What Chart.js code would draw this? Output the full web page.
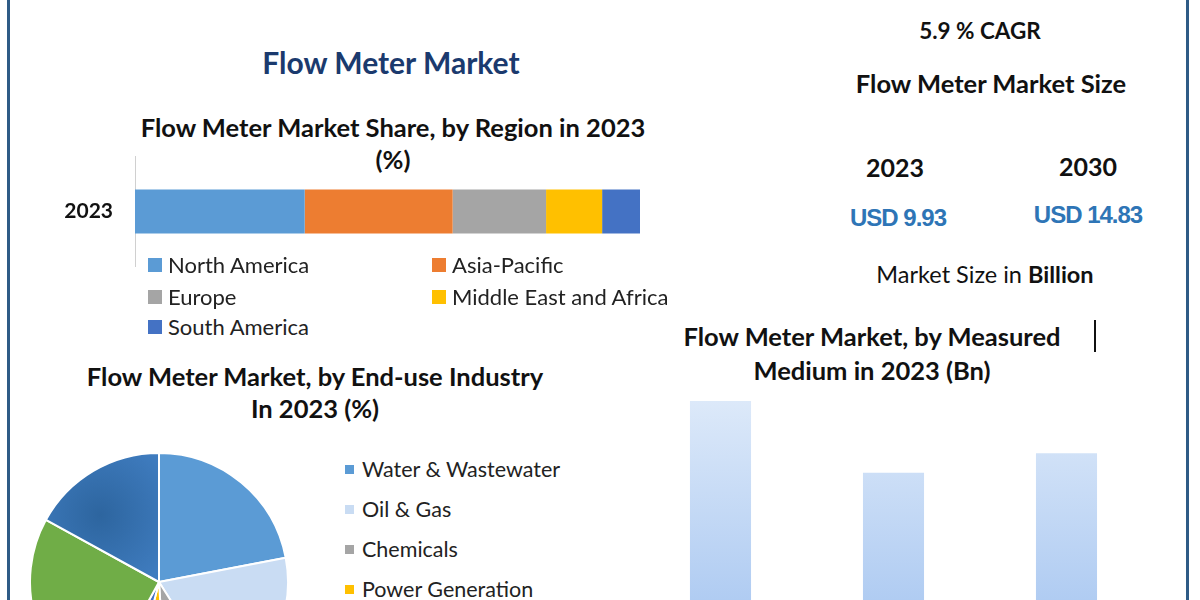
<!DOCTYPE html>
<html>
<head>
<meta charset="utf-8">
<script src="https://cdn.jsdelivr.net/npm/chart.js"></script>
<style>
  body { margin: 0; width: 1200px; height: 600px; overflow: hidden; background: #fff; font-family: Lato, sans-serif; position: relative; }
  .t { position: absolute; white-space: nowrap; transform: translate(-50%, -50%); line-height: 1; color: #111; font-weight: bold; }
  .box { position: absolute; }
  .leg { position: absolute; white-space: nowrap; font-size: 22px; color: #222; line-height: 1; }
  .leg i { display: inline-block; vertical-align: middle; margin-right: 6px; position: relative; top: -2px; }
  .usd { font-family: "Liberation Sans", sans-serif; color: #2e75b6; letter-spacing: -1px; font-size: 24px; }
</style>
</head>
<body>
<div style="position:absolute;left:7px;top:0;width:3px;height:600px;background:#2f5b86"></div>
<div style="position:absolute;left:1186px;top:0;width:3px;height:600px;background:#2f5b86"></div>
<div style="position:absolute;left:1094px;top:320px;width:2px;height:32px;background:#111"></div>

<div class="t" style="left:391px;top:62px;font-size:30px;color:#1b3a6e">Flow Meter Market</div>
<div class="t" style="left:393px;top:128px;font-size:25.5px">Flow Meter Market Share, by Region in 2023</div>
<div class="t" style="left:393px;top:160px;font-size:25.5px">(%)</div>
<div class="t" style="left:315px;top:377px;font-size:25.5px">Flow Meter Market, by End-use Industry</div>
<div class="t" style="left:315px;top:409px;font-size:25.5px">In 2023 (%)</div>
<div class="t" style="left:872px;top:337px;font-size:25.5px">Flow Meter Market, by Measured</div>
<div class="t" style="left:872px;top:371px;font-size:25.5px">Medium in 2023 (Bn)</div>
<div class="t" style="left:980px;top:31px;font-size:22.5px">5.9 % CAGR</div>
<div class="t" style="left:991px;top:84px;font-size:25.5px">Flow Meter Market Size</div>
<div class="t" id="y0" style="left:895px;top:167px;font-size:25px"></div>
<div class="t" id="y1" style="left:1088px;top:166px;font-size:25px"></div>
<div class="t usd" id="v0" style="left:898px;top:218px"></div>
<div class="t usd" id="v1" style="left:1088px;top:215px"></div>
<div class="t" style="left:985px;top:275px;font-size:23.5px;font-weight:normal">Market Size in <b>Billion</b></div>

<!-- tick padding is also added above/below the y axis, so the box is taller than the plot -->
<div class="box" style="left:60px;top:122px;width:580px;height:179px"><canvas id="regionChart"></canvas></div>
<div id="regionLegend"></div>
<div class="box" style="left:29px;top:452px;width:260px;height:260px"><canvas id="pieChart"></canvas></div>
<div id="pieLegend"></div>
<div class="box" style="left:634px;top:380px;width:519px;height:320px"><canvas id="mediumChart"></canvas></div>

<script>
// market size
const sizeYears = ['2023', '2030'];
const sizeValues = [9.93, 14.83];

// share by region, 2023 (%)
const regions = ['North America', 'Asia-Pacific', 'Europe', 'Middle East and Africa', 'South America'];
const regionShare = [33.6, 29.3, 18.5, 11.1, 7.5];
const regionColors = ['#5b9bd5', '#ed7d31', '#a5a5a5', '#ffc000', '#4472c4'];

// end-use industry, 2023 (%)
const industries = ['Water & Wastewater', 'Oil & Gas', 'Chemicals', 'Power Generation', 'Pharmaceuticals', 'Food & Beverages', 'Others'];
const industryShare = [22, 19, 8, 5, 4, 25, 17];
const industryColors = ['#5b9bd5', '#c9dcf3', '#a5a5a5', '#ffc000', '#4472c4', '#70ad47', '#3f7cbf'];

// measured medium, 2023 (Bn)
const media = ['Liquid', 'Gas', 'Steam'];
const mediumValues = [3.84, 2.92, 3.17];

sizeYears.forEach((y, i) => {
  document.getElementById('y' + i).textContent = y;
  document.getElementById('v' + i).textContent = 'USD ' + sizeValues[i].toFixed(2);
});

// region stacked bar
new Chart(document.getElementById('regionChart'), {
  type: 'bar',
  data: {
    labels: ['2023'],
    datasets: regions.map((r, i) => ({
      label: r,
      data: [regionShare[i]],
      backgroundColor: regionColors[i],
      barPercentage: 0.4,
      categoryPercentage: 1
    }))
  },
  options: {
    indexAxis: 'y',
    responsive: true,
    maintainAspectRatio: false,
    animation: false,
    layout: { padding: 0 },
    plugins: { legend: { display: false }, tooltip: { enabled: false } },
    scales: {
      x: { stacked: true, display: false, min: 0, max: 100 },
      y: {
        stacked: true,
        afterFit: s => { s.width = 75; },
        grid: { display: false, drawTicks: false },
        border: { display: true, color: '#d0d0d0', width: 1 },
        ticks: { padding: 22, color: '#111', font: { family: 'Lato', size: 21, weight: 'bold' } }
      }
    }
  }
});

// region legend in two columns
const regLeg = document.getElementById('regionLegend');
regions.forEach((r, i) => {
  const d = document.createElement('div');
  d.className = 'leg';
  d.style.left = (i % 2 ? 432 : 148) + 'px';
  d.style.top = ([265, 297, 327][Math.floor(i / 2)] - 11) + 'px';
  d.innerHTML = '<i style="width:14px;height:14px;background:' + regionColors[i] + '"></i>' + r;
  regLeg.appendChild(d);
});

// end-use pie
new Chart(document.getElementById('pieChart'), {
  type: 'pie',
  data: {
    labels: industries,
    datasets: [{
      data: industryShare,
      backgroundColor: ctx => {
        // last slice has a darker spot in the picture
        if (ctx.dataIndex !== industries.length - 1 || !ctx.chart.chartArea) return industryColors[ctx.dataIndex];
        const g = ctx.chart.ctx.createRadialGradient(71, 63, 0, 71, 63, 80);
        g.addColorStop(0, '#2d659f');
        g.addColorStop(1, industryColors[ctx.dataIndex]);
        return g;
      },
      borderColor: '#fff',
      borderWidth: 2
    }]
  },
  options: {
    responsive: true,
    maintainAspectRatio: false,
    animation: false,
    layout: { padding: 0 },
    plugins: { legend: { display: false }, tooltip: { enabled: false } }
  }
});

const pieLeg = document.getElementById('pieLegend');
industries.forEach((n, i) => {
  const d = document.createElement('div');
  d.className = 'leg';
  d.style.fontSize = '21.5px';
  d.style.left = '345px';
  d.style.top = (470 + 40 * i - 11) + 'px';
  d.innerHTML = '<i style="width:9px;height:9px;margin-right:8px;background:' + industryColors[i] + '"></i>' + n;
  pieLeg.appendChild(d);
});

// measured medium bars
new Chart(document.getElementById('mediumChart'), {
  type: 'bar',
  data: {
    labels: media,
    datasets: [{
      data: mediumValues,
      barPercentage: 0.353,
      categoryPercentage: 1,
      backgroundColor: ctx => {
        const c = ctx.chart;
        if (!c.chartArea) return '#c5daf6';
        const g = c.ctx.createLinearGradient(0, c.chartArea.top, 0, c.chartArea.top + 220);
        g.addColorStop(0, '#e1ecfa');
        g.addColorStop(1, '#b0ccf2');
        return g;
      }
    }]
  },
  options: {
    responsive: true,
    maintainAspectRatio: false,
    animation: false,
    layout: { padding: 0 },
    plugins: { legend: { display: false }, tooltip: { enabled: false } },
    scales: {
      x: { display: false },
      y: { display: false, min: 0, max: 4.11 }
    }
  }
});
</script>
</body>
</html>
